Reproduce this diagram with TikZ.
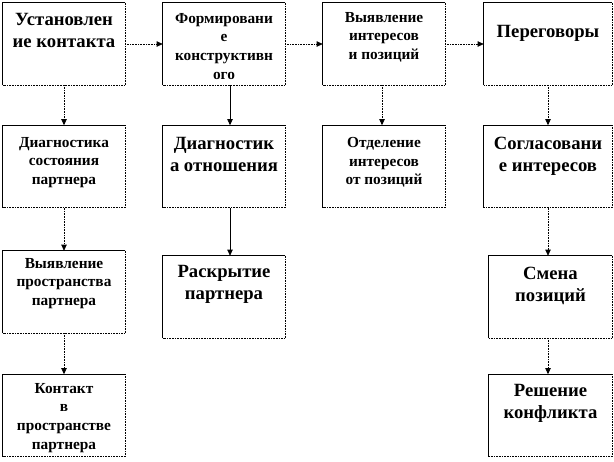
\documentclass[tikz,border=0pt]{standalone}
\usepackage{fontspec}
\setmainfont{Liberation Serif}
\usetikzlibrary{arrows.meta}
\begin{document}
\begin{tikzpicture}[x=0.75pt,y=-0.75pt,
  box/.style={inner sep=0pt, minimum width=91.5pt, minimum height=61.5pt},
  wbox/.style={box, minimum width=96pt},
  mbox/.style={box, minimum width=92.25pt},
  solidedge/.style={draw=black, line width=0.6pt},
  dotedge/.style={draw=black, line width=0.8pt, dash pattern=on 0.6pt off 0.6pt},
  big/.style={anchor=north, align=center, inner sep=0pt, font=\bfseries\fontsize{14}{16.2}\selectfont},
  small/.style={anchor=north, align=center, inner sep=0pt, font=\bfseries\fontsize{11.5}{14}\selectfont},
  arr/.style={-{Triangle[length=4.5pt,width=4pt]}, line width=0.5pt, draw=black},
  darr/.style={arr, dash pattern=on 0.6pt off 0.6pt}]
\useasboundingbox (0,0) rectangle (614,461);
% boxes
\node[box]  (b1) at (64,44) {};
\node[box]  (b2) at (224,44) {};
\node[box]  (b3) at (384,44) {};
\node[wbox] (b4) at (548,44) {};
\node[box]  (b5) at (64,166.5) {};
\node[box]  (b6) at (224,166.5) {};
\node[box]  (b7) at (384,166.5) {};
\node[wbox] (b8) at (548,166.5) {};
\node[box]  (b9) at (64,292) {};
\node[box]  (b10) at (224,297) {};
\node[mbox] (b11) at (550.5,297) {};
\node[box]  (b12) at (64,415.5) {};
\node[mbox] (b13) at (550.5,415.5) {};
\foreach \b in {b1,b2,b3,b4,b5,b6,b7,b8,b9,b10,b11,b12,b13}{
  \draw[solidedge] (\b.south west) -- (\b.north west) -- (\b.north east);
  \draw[dotedge] (\b.north east) -- (\b.south east) -- (\b.south west);
}
% texts
\node[big]   (t1) at (64,13) {Установлен\\ие контакта};
\node[small] (t2) at (224,13) {Формировани\\е\\конструктивн\\ого};
\node[small] (t3) at (384,12) {Выявление\\интересов\\и позиций};
\node[big]   (t4) at (548,25) {Переговоры};
\node[small] (t5) at (64,137) {Диагностика\\состояния\\партнера};
\node[big]   (t6) at (224,137) {Диагностик\\а отношения};
\node[small] (t7) at (384,137) {Отделение\\интересов\\от позиций};
\node[big]   (t8) at (548,137) {Согласовани\\е интересов};
\node[small] (t9) at (64,258) {Выявление\\пространства\\партнера};
\node[big]   (t10) at (224,265) {Раскрытие\\партнера};
\node[big]   (t11) at (550.5,267) {Смена\\позиций};
\node[small] (t12) at (64,383) {Контакт\\в\\пространстве\\партнера};
\node[big]   (t13) at (550.5,384) {Решение\\конфликта};
% arrows
\draw[darr] (b1.east) -- (b2.west);
\draw[darr] (b2.east) -- (b3.west);
\draw[darr] (b3.east) -- (b4.west);
\draw[darr] (b1.south) -- (b5.north);
\draw[darr] (b5.south) -- (b9.north);
\draw[darr] (b9.south) -- (b12.north);
\draw[arr] ([xshift=4.5pt]b2.south) -- ([xshift=4.5pt]b6.north);
\draw[arr] ([xshift=4.5pt]b6.south) -- ([xshift=4.5pt]b10.north);
\draw[darr] ([xshift=-1.5pt]b3.south) -- ([xshift=-1.5pt]b7.north);
\draw[darr] (b4.south) -- (b8.north);
\draw[darr] (b8.south) -- (b8.south |- b11.north);
\draw[darr] (b11.south -| b8.south) -- (b8.south |- b13.north);
\end{tikzpicture}
\end{document}
